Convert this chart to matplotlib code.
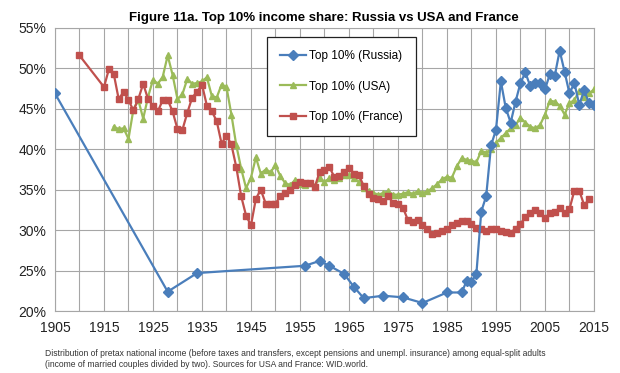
import numpy as np
import matplotlib
matplotlib.use("Agg")
import matplotlib.pyplot as plt

# Russia: sparse early years, annual from 1989
russia_years = [1905, 1928, 1934, 1956, 1959, 1961, 1964, 1966, 1968, 1972, 1976, 1980,
                1985, 1988] + list(range(1989, 2016))
russia_share = [46.9, 22.4, 24.7, 25.6, 26.2, 25.6, 24.6, 23.0, 21.6, 21.9, 21.7, 21.0,
                22.3, 22.3,
                23.7, 23.6, 24.6, 32.3, 34.2, 40.5, 42.4, 48.4, 45.1, 43.3, 45.9, 48.2,
                49.5, 47.8, 48.2, 48.2, 47.4, 49.3, 49.1, 52.2, 49.6, 46.9, 48.2, 45.5,
                47.3, 45.7, 45.5]

usa_years = list(range(1917, 2016))
usa_share = [42.8, 42.5, 42.6, 41.3, 44.9, 46.1, 43.8, 46.5, 48.6, 48.1,   # 1917-1926
             49.0, 51.6, 49.2, 46.2, 46.8, 48.7, 48.1, 48.2, 48.4, 48.9,   # 1927-1936
             46.6, 46.4, 48.0, 47.7, 44.3, 40.5, 37.6, 35.2, 36.5, 39.0,   # 1937-1946
             37.0, 37.5, 37.2, 38.0, 36.7, 35.8, 35.6, 36.2, 35.7, 35.6,   # 1947-1956
             35.8, 35.5, 36.4, 36.0, 36.4, 36.2, 36.5, 36.8, 36.8, 36.4,   # 1957-1966
             36.0, 35.2, 34.9, 34.6, 34.4, 34.6, 34.8, 34.4, 34.4, 34.5,   # 1967-1976
             34.7, 34.5, 34.8, 34.6, 34.8, 35.2, 35.7, 36.3, 36.6, 36.5,   # 1977-1986
             37.9, 38.9, 38.7, 38.6, 38.4, 39.8, 39.6, 40.0, 40.8, 41.4,   # 1987-1996
             42.0, 42.6, 43.0, 43.9, 43.3, 42.8, 42.6, 43.0, 44.3, 46.0,   # 1997-2006
             45.9, 45.4, 44.3, 45.7, 46.1, 47.2, 46.5, 46.9, 47.4]         # 2007-2015

france_years = [1910] + list(range(1915, 2015))
france_share = [51.6,
                47.7, 49.9, 49.3, 46.2, 47.1, 46.1, 44.8, 46.2, 48.1, 46.2,   # 1915-1924
                45.4, 44.7, 46.1, 46.1, 44.7, 42.5, 42.4, 44.5, 46.4, 47.1,   # 1925-1934
                48.0, 45.4, 44.7, 43.5, 40.7, 41.7, 40.6, 37.8, 34.2, 31.8,   # 1935-1944
                30.6, 33.9, 35.0, 33.3, 33.3, 33.3, 34.2, 34.6, 35.0, 35.6,   # 1945-1954
                36.0, 35.8, 35.8, 35.3, 37.2, 37.4, 37.8, 36.6, 36.7, 37.2,   # 1955-1964
                37.7, 37.0, 36.8, 35.5, 34.5, 34.0, 33.8, 33.6, 34.2, 33.4,   # 1965-1974
                33.2, 32.8, 31.3, 31.0, 31.3, 30.6, 30.1, 29.5, 29.6, 29.9,   # 1975-1984
                30.2, 30.6, 30.9, 31.1, 31.1, 30.8, 30.3, 30.1, 29.9, 30.2,   # 1985-1994
                30.1, 29.9, 29.8, 29.7, 30.2, 30.8, 31.6, 32.1, 32.5, 32.1,   # 1995-2004
                31.5, 32.1, 32.2, 32.8, 32.1, 32.6, 34.9, 34.9, 33.1, 33.8]   # 2005-2014

title = "Figure 11a. Top 10% income share: Russia vs USA and France"
note = ("Distribution of pretax national income (before taxes and transfers, except pensions "
        "and unempl. insurance) among equal-split adults\n"
        "(income of married couples divided by two). Sources for USA and France: WID.world.")

plt.rcParams['font.family'] = ['Liberation Sans', 'DejaVu Sans']

fig = plt.figure(figsize=(6.2, 3.73), dpi=100)
ax = fig.add_axes([0.0887, 0.166, 0.8693, 0.759])

ax.plot(usa_years, np.array(usa_share) / 100, color='#9BBB59', lw=1.6, marker='^',
        ms=4.5, label='Top 10% (USA)', zorder=3)
ax.plot(france_years, np.array(france_share) / 100, color='#C0504D', lw=1.6, marker='s',
        ms=4.5, label='Top 10% (France)', zorder=4)
ax.plot(russia_years, np.array(russia_share) / 100, color='#4A7EBB', lw=1.6, marker='D',
        ms=5, label='Top 10% (Russia)', zorder=5)

ax.set_xlim(1905, 2015)
ax.set_ylim(0.20, 0.55)
ax.set_xticks(np.arange(1905, 2016, 5), minor=True)
ax.set_xticks(np.arange(1905, 2016, 10))
ax.set_yticks(np.arange(0.20, 0.551, 0.05))
ax.set_yticklabels([f"{int(round(v * 100))}%" for v in np.arange(0.20, 0.551, 0.05)])
ax.grid(True, which='both', color='#A6A6A6', lw=0.8)
ax.set_axisbelow(True)
ax.tick_params(which='both', length=0, labelsize=10, colors='#222222', pad=6)
ax.tick_params(axis='x', pad=7)
for s in ax.spines.values():
    s.set_color('#A6A6A6')
    s.set_linewidth(0.8)

handles, labels = ax.get_legend_handles_labels()
order = [2, 0, 1]
leg = ax.legend([handles[i] for i in order], [labels[i] for i in order],
                loc='upper left', bbox_to_anchor=(0.393, 0.967), fontsize=8.5,
                labelspacing=1.55, handlelength=2.2, borderpad=1.1, fancybox=False,
                framealpha=1, edgecolor='#222222', handletextpad=0.3, borderaxespad=0)
leg.get_frame().set_linewidth(0.9)

fig.text(0.523, 0.952, title, ha='center', va='center', fontsize=9.5, fontweight='bold')
fig.text(0.073, 0.038, note, ha='left', va='center', fontsize=6.15, color='#333333',
         linespacing=1.3)

fig.savefig('out.png', dpi=100, facecolor='white')
